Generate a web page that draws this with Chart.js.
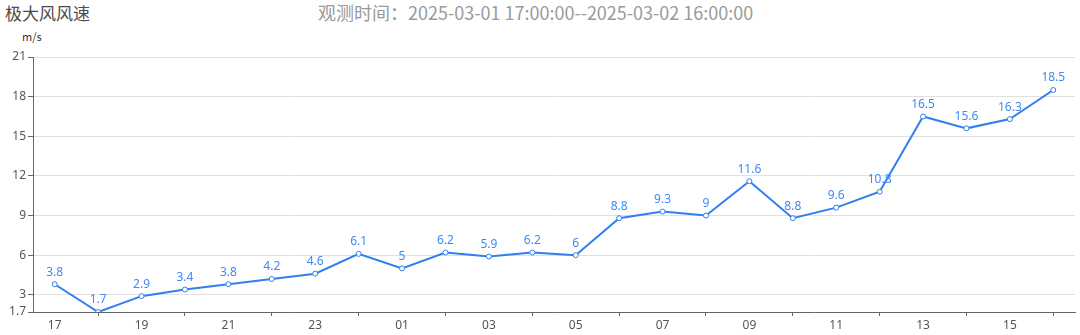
<!DOCTYPE html>
<html>
<head>
<meta charset="utf-8">
<script src="https://cdn.jsdelivr.net/npm/chart.js@4"></script>
<style>
    body { margin: 0; background: #fff; font-family: "Noto Sans CJK SC", "Noto Sans", sans-serif; }
    .wrap { position: relative; width: 1080px; height: 335px; }
    .title { position: absolute; left: 5px; top: 0px; font-size: 17px; color: #4a4a4a; }
    .subtitle { position: absolute; left: 318px; top: -1px; font-size: 18px; color: #9a9a9a; }
    .unit { position: absolute; left: 22px; top: 28px; font-size: 11px; color: #333; }
    canvas { position: absolute; left: 0; top: 0; }
</style>
</head>
<body>
<div class="wrap">
    <div class="title">极大风风速</div>
    <div class="subtitle">观测时间：2025-03-01 17:00:00--2025-03-02 16:00:00</div>
    <div class="unit">m/s</div>
    <canvas id="windChart" width="1080" height="335"></canvas>
</div>
<script>
    // Data
    const hours = ['17', '18', '19', '20', '21', '22', '23', '00', '01', '02', '03', '04',
                   '05', '06', '07', '08', '09', '10', '11', '12', '13', '14', '15', '16'];
    const maxWind = [3.8, 1.7, 2.9, 3.4, 3.8, 4.2, 4.6, 6.1, 5, 6.2, 5.9, 6.2,
                     6, 8.8, 9.3, 9, 11.6, 8.8, 9.6, 10.8, 16.5, 15.6, 16.3, 18.5];
    const yTicks = [1.7, 3, 6, 9, 12, 15, 18, 21];

    // value labels above each point
    const valueLabels = {
        id: 'valueLabels',
        afterDatasetsDraw(chart) {
            const c = chart.ctx;
            const meta = chart.getDatasetMeta(0);
            c.save();
            c.fillStyle = '#3d8af7';
            c.font = '12px "Noto Sans", sans-serif';
            c.textAlign = 'center';
            c.textBaseline = 'bottom';
            meta.data.forEach((pt, i) => {
                c.fillText(String(maxWind[i]), pt.x, pt.y - 6);
            });
            c.restore();
        }
    };

    const ctx = document.getElementById('windChart').getContext('2d');
    const windChart = new Chart(ctx, {
        type: 'line',
        data: {
            labels: hours,
            datasets: [{
                data: maxWind,
                borderColor: '#2f7ff2',
                borderWidth: 2,
                pointRadius: 2.5,
                pointBorderWidth: 1,
                pointBackgroundColor: '#fff',
                pointBorderColor: '#2f7ff2',
                tension: 0
            }]
        },
        options: {
            responsive: false,
            animation: false,
            layout: { padding: { top: 57, right: 3, left: 0, bottom: 0 } },
            plugins: {
                legend: { display: false },
                tooltip: { enabled: false }
            },
            scales: {
                x: {
                    offset: true,
                    border: { color: '#666', width: 1 },
                    grid: {
                        drawOnChartArea: false,
                        tickLength: 4,
                        tickColor: c => (c.index % 2 === 1 ? '#666' : 'rgba(0,0,0,0)')
                    },
                    ticks: {
                        autoSkip: false,
                        maxRotation: 0,
                        padding: 2,
                        color: '#555',
                        font: { size: 12, family: '"Noto Sans", sans-serif' },
                        callback: (v, i) => (i % 2 === 0 ? hours[i] : '')
                    },
                    afterFit: s => { s.height = 23; }
                },
                y: {
                    min: 1.7,
                    max: 21,
                    border: { color: '#666', width: 1 },
                    grid: {
                        color: c => (c.tick && c.tick.value === 1.7 ? 'rgba(0,0,0,0)' : '#e0e0e0'),
                        tickColor: '#666',
                        tickLength: 5
                    },
                    ticks: {
                        color: '#555',
                        padding: 2,
                        font: { size: 12, family: '"Noto Sans", sans-serif' }
                    },
                    afterBuildTicks: s => { s.ticks = yTicks.map(v => ({ value: v })); },
                    afterFit: s => { s.width = 33; }
                }
            }
        },
        plugins: [valueLabels]
    });
</script>
</body>
</html>
